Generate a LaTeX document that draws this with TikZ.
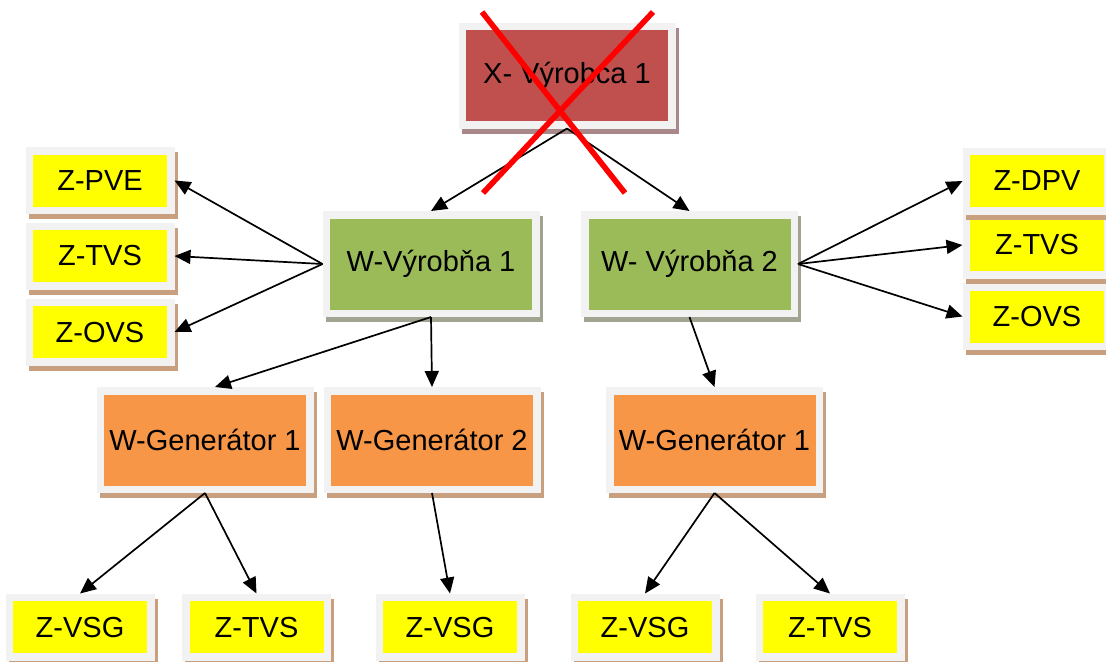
\documentclass[tikz,border=0pt]{standalone}
\usepackage{fontspec}
\setmainfont{Liberation Sans}
\usetikzlibrary{arrows.meta,shadows,calc}
\definecolor{framegray}{HTML}{F2F2F2}
\definecolor{xred}{HTML}{C0504D}
\definecolor{wgreen}{HTML}{9BBB59}
\definecolor{gorange}{HTML}{F79646}
\definecolor{zyellow}{HTML}{FFFF00}
\definecolor{shx}{HTML}{A88888}
\definecolor{shg}{HTML}{A0A490}
\definecolor{sho}{HTML}{C8A080}
\begin{document}
\begin{tikzpicture}[x=0.5pt,y=-0.5pt,
  box/.style={draw=framegray, line width=3.75pt, inner sep=0pt,
    font=\fontsize{14.5}{17}\selectfont, text=black},
  shad/.style={general shadow={fill=#1, draw=#1, line width=3.75pt,
    shadow xshift=1.5pt, shadow yshift=-2.5pt}},
  big/.style={box, minimum width=104.75pt, minimum height=49.25pt},
  small/.style={box, minimum width=70.75pt, minimum height=29.75pt},
  xbox/.style={big, fill=xred, shad=shx},
  wbox/.style={big, fill=wgreen, shad=shg},
  gbox/.style={big, fill=gorange, shad=sho},
  zbox/.style={small, fill=zyellow, shad=sho},
  conn/.style={draw=black, line width=0.85pt, -{Triangle[length=8pt,width=7pt]}},
  cross/.style={draw=red, line width=2.8pt}]
\useasboundingbox (0,0) rectangle (1106,661);

% top
\node[xbox] (x) at (567,75.5) {X- Výrobca 1};
% left column (bottom to top)
\node[zbox] (zovsl) at (100,332) {Z-OVS};
\node[zbox] (ztvsl) at (100,256) {Z-TVS};
\node[zbox] (zpve) at (100,180.5) {Z-PVE};
% right column (bottom to top)
\node[zbox] (zovsr) at (1037,316.5) {Z-OVS};
\node[zbox] (ztvsr) at (1037,245) {Z-TVS};
\node[zbox] (zdpv) at (1037,181) {Z-DPV};
% W level
\node[wbox] (w1) at (431,264) {W-Výrobňa 1};
\node[wbox] (w2) at (689.5,264) {W- Výrobňa 2};
% generators
\node[gbox] (g1) at (205,440) {W-Generátor 1};
\node[gbox] (g2) at (432,440) {W-Generátor 2};
\node[gbox] (g3) at (714.5,440) {W-Generátor 1};
% bottom row
\node[zbox] (zvsg1) at (80,627) {Z-VSG};
\node[zbox] (ztvs1) at (256.5,627) {Z-TVS};
\node[zbox] (zvsg2) at (450,627) {Z-VSG};
\node[zbox] (zvsg3) at (645,627) {Z-VSG};
\node[zbox] (ztvs3) at (830,627) {Z-TVS};

\coordinate (g1t) at ($(g1.north)+(10,0)$);

% connectors
\draw[conn] (x.south) -- (w1.north);
\draw[conn] (x.south) -- (w2.north);
\draw[conn] (w1.west) -- (zpve.east);
\draw[conn] (w1.west) -- (ztvsl.east);
\draw[conn] (w1.west) -- (zovsl.east);
\draw[conn] (w2.east) -- (zdpv.west);
\draw[conn] (w2.east) -- (ztvsr.west);
\draw[conn] (w2.east) -- (zovsr.west);
\draw[conn] (w1.south) -- (g1t);
\draw[conn] (w1.south) -- (g2.north);
\draw[conn] (w2.south) -- (g3.north);
\draw[conn] (g1.south) -- (zvsg1.north);
\draw[conn] (g1.south) -- (ztvs1.north);
\draw[conn] (g2.south) -- (zvsg2.north);
\draw[conn] (g3.south) -- (zvsg3.north);
\draw[conn] (g3.south) -- (ztvs3.north);

% red cross over top box
\draw[cross] (482,12) -- (625,193);
\draw[cross] (653,12) -- (483,193);
\end{tikzpicture}
\end{document}
